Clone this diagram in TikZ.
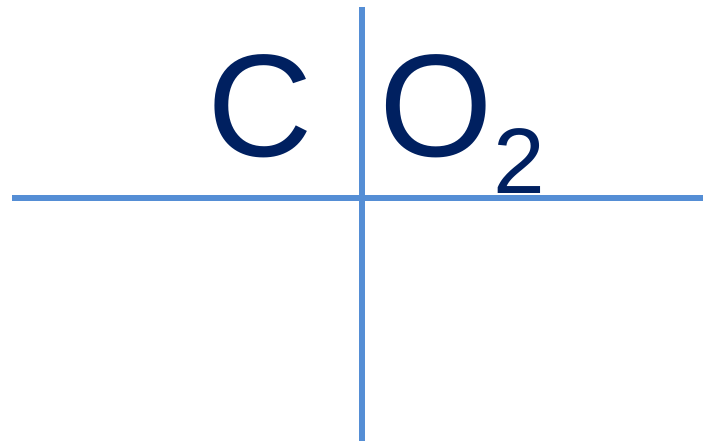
\documentclass[tikz,border=0pt]{standalone}
\usepackage{fontspec}
\setmainfont{Liberation Sans}
\usepackage{tikz}
\definecolor{chartline}{HTML}{558ED5}
\definecolor{chemtext}{HTML}{002060}

\begin{document}
\begin{tikzpicture}[x=1pt,y=-1pt,
  tline/.style={draw=chartline,line width=6pt},
  bigsym/.style={text=chemtext,inner sep=0pt,anchor=base,font=\fontsize{146}{146}\selectfont},
  subsym/.style={text=chemtext,inner sep=0pt,anchor=base,font=\fontsize{93}{93}\selectfont}]
  \useasboundingbox (0,0) rectangle (703,441);
  % T-chart
  \coordinate (top) at (362,7);
  \coordinate (bottom) at (362,441);
  \coordinate (left) at (12,198);
  \coordinate (right) at (703,198);
  \draw[tline] (top) -- (bottom);
  \draw[tline] (left) -- (right);
  % reactants
  \node[bigsym] (carbon) at (260,156) {C};
  \node[bigsym] (oxygen) at (436.5,156) {O};
  \node[subsym] (two) at (519,193) {2};
\end{tikzpicture}
\end{document}
